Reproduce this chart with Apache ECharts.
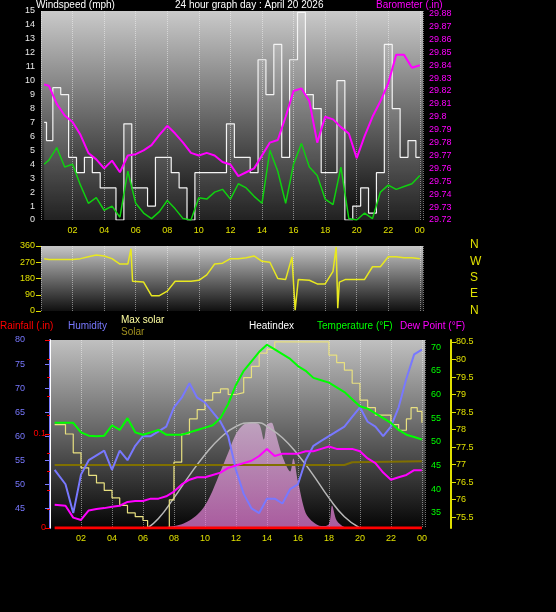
<!DOCTYPE html>
<html><head><meta charset="utf-8">
<script src="https://cdn.jsdelivr.net/npm/echarts@6/dist/echarts.min.js"></script>
<style>html,body{margin:0;background:#000}#c{width:556px;height:612px}</style>
</head><body><div id="c"></div>
<script>
// ---- data ----
const hourTicks = ['02','04','06','08','10','12','14','16','18','20','22','00'];
const tHalf = [0.2,0.5,1,1.5,2,2.5,3,3.5,4,4.5,5,5.5,6,6.5,7,7.5,8,8.5,9,9.5,10,10.5,11,11.5,12,12.5,13,13.5,14,14.5,15,15.5,16,16.5,17,17.5,18,18.5,19,19.5,20,20.5,21,21.5,22,22.5,23,23.5,24];
const barometer = [29.825,29.824,29.81,29.801,29.796,29.786,29.772,29.767,29.76,29.766,29.757,29.770,29.771,29.774,29.778,29.786,29.793,29.787,29.780,29.772,29.770,29.772,29.770,29.765,29.763,29.754,29.757,29.760,29.770,29.780,29.782,29.800,29.820,29.822,29.812,29.780,29.800,29.798,29.792,29.787,29.768,29.785,29.800,29.812,29.826,29.848,29.848,29.838,29.840];
const windAvg = [4,4.3,5.2,3.8,4,2.5,1.2,1.6,0.7,1,0.2,3.5,1.2,0.5,0.1,0.6,1.4,0.8,0.1,0,1.6,1.5,2,2.2,1.5,2.6,2.3,1.7,1.2,5,3.5,1.2,4,5.5,3.8,3.2,1.5,1.1,3.8,0.1,0,0.5,0.1,2,2.5,2.2,2.4,2.6,3.2];
const windGust = [7,5.7,9.5,9,4.5,3.4,4.5,3.4,2.3,2.3,0,6.9,2.3,2.3,1,4.5,4.5,3.4,2.3,0,3.4,3.4,3.4,3.4,6.9,4.5,4.5,3.4,11.5,9,12.6,4.5,11.5,14.9,9,8,3.4,3.4,10,0,1,2.3,0.5,3.4,12.6,8,4.5,5.7,4.5];
const tDir = [0.2,0.5,1,1.5,2,2.5,3,3.5,4,4.5,5,5.5,5.7,5.8,6.5,7,7.5,8,8.5,9,9.5,10,10.5,11,11.5,12,12.5,13,13.5,14,14.5,15,15.5,15.9,16.0,16.1,16.3,17,17.5,18,18.5,18.7,18.8,18.9,19.3,20,20.5,21,21.5,22,22.5,23,23.5,24];
const windDir = [290,285,285,285,285,290,300,310,305,290,260,260,345,165,160,85,85,110,165,165,165,170,200,260,265,290,290,295,305,275,270,180,175,300,300,5,175,170,150,150,220,355,15,160,175,175,175,245,245,300,300,295,295,290];
const tB = [0.3,1,1.5,2,2.5,3,3.5,4,4.5,5,5.5,6,6.5,7,7.5,8,8.5,9,9.5,10,10.5,11,11.5,12,12.5,13,13.5,14,14.5,15,15.5,16,16.5,17,17.5,18,18.5,19,19.5,20,20.5,21,21.5,22,22.5,23,23.5,24];
const temperature = [54,54,54,52,51.3,51.2,51.3,53.5,52.5,55,52,51.5,52,52.5,51.5,51.5,51.5,52,52.5,53,53.5,55,58,62,65,67,69,70.5,69.5,68.5,67.5,66,65,63.5,63,62.5,61.5,60.5,59,57.5,57,56,55,54,52.5,51.5,51,50.5];
const humidity = [53,50,44,52,55,56,57,53,57,55,58,60,60,61,62,66,68,71,68,67,65,63,60,53,48,45,44,47,47,46,49,50,55,58,59,60,61,62,64,66,63,62,60,62,66,72,77,78];
const dewPoint = [36.7,36.5,34,33.5,35.5,35.8,36,36.3,36.5,37.3,37.5,37.5,38,38,38.5,39.5,41,42,42.5,42.5,43,43.5,44.5,45,45.5,46,47,48.5,47,47.5,47.5,47.5,48,48,48.5,49,48.5,48.5,48.5,48,46.5,45.5,43.5,42,42.5,43,44,44];
const tMaxSol = [6.3,7,8,9,10,11,12,13,13.5,14,15,16,17,18,19,20];
const maxSolarCurve = [0,5,16,28,39,48,54,56,56,54,48,39,28,16,6,0];
const tSolar = [7,8,8.5,9,9.5,10,10.5,11,11.5,12,12.5,13,13.5,13.8,14,14.3,14.5,15,15.5,15.7,16,16.5,17,17.5,18,18.2,18.5,19,19.5];
const solar = [0,1,2,4,7,12,20,30,40,50,55,56,55,47,55,56,52,38,30,37,25,8,3,1,2,12,4,0.5,0];
const tMaxSolar = [0.3,1,1.5,2,2.5,3,3.5,4,4.5,5,5.5,6,6.3,7.3,7.7,8,8.5,9,9.5,10,10.5,11,11.5,12,12.5,13,13.5,14,14.5,15,16,17,17.8,18,18.5,19,19.5,20,20.5,21,21.5,22,22.5,23,23.3,23.7,24];
const maxSolarLine = [55,50,40,32,28,24,20,16,12,8,6,4,0,0,15,35,50,58,63,68,72,74,71,72,80,86,93,95,99,99,99,99,99,92,88,84,77,68,64,60,60,55,52,58,64,62,56];
const tSolLine = [0.3,19,19.5,24];
const solarLine = [33.5,33.5,35,35.5];
const tRain = [0.3,24];
const rainfall = [0,0];
const humTicks = [45,50,55,60,65,70,75,80];
const tempTicks = [35,40,45,50,55,60,65,70];
const heatTicks = [75.5,76,76.5,77,77.5,78,78.5,79,79.5,80,80.5];

const P = (t,v)=>t.map((x,i)=>[x,v[i]]);
const F = 'Liberation Sans, Arial, sans-serif';
const bg = (a,b)=>({type:'linear',x:0,y:0,x2:0,y2:1,colorStops:[{offset:0,color:a},{offset:1,color:b}]});
const split = {show:true,lineStyle:{color:'rgba(255,255,255,0.45)',type:'dotted'}};
const xa = (gi,show)=>({type:'value',gridIndex:gi,min:0,max:24.2,interval:2,
  axisLine:{show:false},axisTick:{show:false},splitLine:split,
  axisLabel:{show:show,color:'#e0e000',fontSize:9,fontFamily:F,margin:6,
    formatter:v=>v===0?'':hourTicks[v/2-1]||''}});
const ch = echarts.init(document.getElementById('c'));
ch.setOption({
  backgroundColor:'#000',animation:false,
  grid:[
    {left:41,right:133,top:11,bottom:392,show:true,borderWidth:0,backgroundColor:bg('#cacaca','#080808')},
    {left:41,right:133,top:246,bottom:301,show:true,borderWidth:0,backgroundColor:bg('#c6c6c6','#101010')},
    {left:50,right:131,top:340,bottom:84,show:true,borderWidth:0,backgroundColor:bg('#c0c0c0','#050505')}
  ],
  xAxis:[xa(0,true),xa(1,false),xa(2,true)],
  yAxis:[
    {type:'value',gridIndex:0,min:0,max:15,interval:1,splitLine:{show:false},axisLine:{show:false},axisTick:{show:false},
      axisLabel:{color:'#e8e8e8',fontSize:9,fontFamily:F,margin:6}},
    {type:'value',gridIndex:0,position:'right',min:29.72,max:29.882,interval:0.01,splitLine:{show:false},axisLine:{show:false},axisTick:{show:false},
      axisLabel:{color:'#ff00ff',fontSize:9,fontFamily:F,margin:6,showMaxLabel:false,formatter:v=>String(parseFloat(v.toFixed(2)))}},
    {type:'value',gridIndex:1,min:0,max:360,interval:90,splitLine:{show:false},axisLine:{show:false},
      axisTick:{show:true,lineStyle:{color:'#e0e000'}},axisLabel:{color:'#e0e000',fontSize:9,fontFamily:F,margin:6}},
    {type:'value',gridIndex:2,position:'left',offset:21,min:40.9,max:80,splitLine:{show:false},
      axisLine:{show:true,lineStyle:{color:'#7878ff',width:2}},axisTick:{show:true,lineStyle:{color:'#7878ff'},customValues:humTicks},
      axisLabel:{color:'#7878ff',fontSize:9,fontFamily:F,margin:4,customValues:humTicks}},
    {type:'value',gridIndex:2,position:'left',min:0,max:0.2,interval:0.1,splitLine:{show:false},
      axisLine:{show:true,lineStyle:{color:'#ffffff'}},axisTick:{show:true,lineStyle:{color:'#ff0000'}},minorTick:{show:true,splitNumber:5,lineStyle:{color:'#ff0000'}},
      axisLabel:{color:'#ff0000',fontSize:9,fontFamily:F,margin:4,showMaxLabel:false}},
    {type:'value',gridIndex:2,position:'right',min:31.8,max:71.5,splitLine:{show:false},axisLine:{show:false},axisTick:{show:false},
      axisLabel:{color:'#00ff00',fontSize:9,fontFamily:F,margin:6,customValues:tempTicks}},
    {type:'value',gridIndex:2,position:'right',offset:26,min:75.19,max:80.557,splitLine:{show:false},
      axisLine:{show:true,lineStyle:{color:'#e0e000',width:2}},axisTick:{show:true,lineStyle:{color:'#e0e000'},customValues:heatTicks},
      axisLabel:{color:'#e0e000',fontSize:9,fontFamily:F,margin:5,customValues:heatTicks}},
    {type:'value',gridIndex:2,show:false,min:0,max:100}
  ],
  series:[
    {type:'line',xAxisIndex:0,yAxisIndex:0,data:P(tHalf,windGust),step:'middle',symbol:'none',lineStyle:{color:'#f4f4f4',width:1.2},areaStyle:{color:'rgba(255,255,255,0.15)'}},
    {type:'line',xAxisIndex:0,yAxisIndex:0,data:P(tHalf,windAvg),symbol:'none',lineStyle:{color:'#10d010',width:1.5}},
    {type:'line',xAxisIndex:0,yAxisIndex:1,data:P(tHalf,barometer),symbol:'none',lineStyle:{color:'#ff00ff',width:2}},
    {type:'line',xAxisIndex:1,yAxisIndex:2,data:P(tDir,windDir),symbol:'none',lineStyle:{color:'#e8e820',width:1.5}},
    {type:'line',xAxisIndex:2,yAxisIndex:7,data:P(tSolar,solar),symbol:'none',smooth:0.3,lineStyle:{width:0},areaStyle:{color:bg('#e0b8e0','#f080e0')}},
    {type:'line',xAxisIndex:2,yAxisIndex:7,data:P(tMaxSol,maxSolarCurve),symbol:'none',smooth:true,lineStyle:{color:'#b8b8b8',width:1.5}},
    {type:'line',xAxisIndex:2,yAxisIndex:7,data:P(tMaxSolar,maxSolarLine),step:'end',symbol:'none',lineStyle:{color:'#e8e080',width:1.2}},
    {type:'line',xAxisIndex:2,yAxisIndex:7,data:P(tSolLine,solarLine),symbol:'none',lineStyle:{color:'#807000',width:2}},
    {type:'line',xAxisIndex:2,yAxisIndex:4,data:P(tRain,rainfall),symbol:'none',lineStyle:{color:'#ff0000',width:3}},
    {type:'line',xAxisIndex:2,yAxisIndex:3,data:P(tB,humidity),symbol:'none',lineStyle:{color:'#7878ff',width:2}},
    {type:'line',xAxisIndex:2,yAxisIndex:5,data:P(tB,dewPoint),symbol:'none',lineStyle:{color:'#ff00ff',width:2}},
    {type:'line',xAxisIndex:2,yAxisIndex:5,data:P(tB,temperature),symbol:'none',lineStyle:{color:'#00ff00',width:2}}
  ],
  graphic:[
    {type:'text',left:36,top:0,style:{text:'Windspeed (mph)',fill:'#fff',font:'10px '+F}},
    {type:'text',left:175,top:0,style:{text:'24 hour graph day : April 20 2026',fill:'#fff',font:'10px '+F}},
    {type:'text',left:376,top:0,style:{text:'Barometer (.in)',fill:'#ff00ff',font:'10px '+F}},
    ...['N','W','S','E','N'].map((s,i)=>({type:'text',left:470,top:239+i*16.3,style:{text:s,fill:'#e0e000',font:'12px '+F}})),
    {type:'text',left:0,top:321,style:{text:'Rainfall (.in)',fill:'#ff0000',font:'10px '+F}},
    {type:'text',left:68,top:321,style:{text:'Humidity',fill:'#7878ff',font:'10px '+F}},
    {type:'text',left:121,top:315,style:{text:'Max solar',fill:'#ffffa0',font:'10px '+F}},
    {type:'text',left:121,top:327,style:{text:'Solar',fill:'#a09020',font:'10px '+F}},
    {type:'text',left:249,top:321,style:{text:'Heatindex',fill:'#fff',font:'10px '+F}},
    {type:'text',left:317,top:321,style:{text:'Temperature (°F)',fill:'#00ff00',font:'10px '+F}},
    {type:'text',left:400,top:321,style:{text:'Dew Point (°F)',fill:'#ff00ff',font:'10px '+F}}
  ]
});
</script></body></html>
